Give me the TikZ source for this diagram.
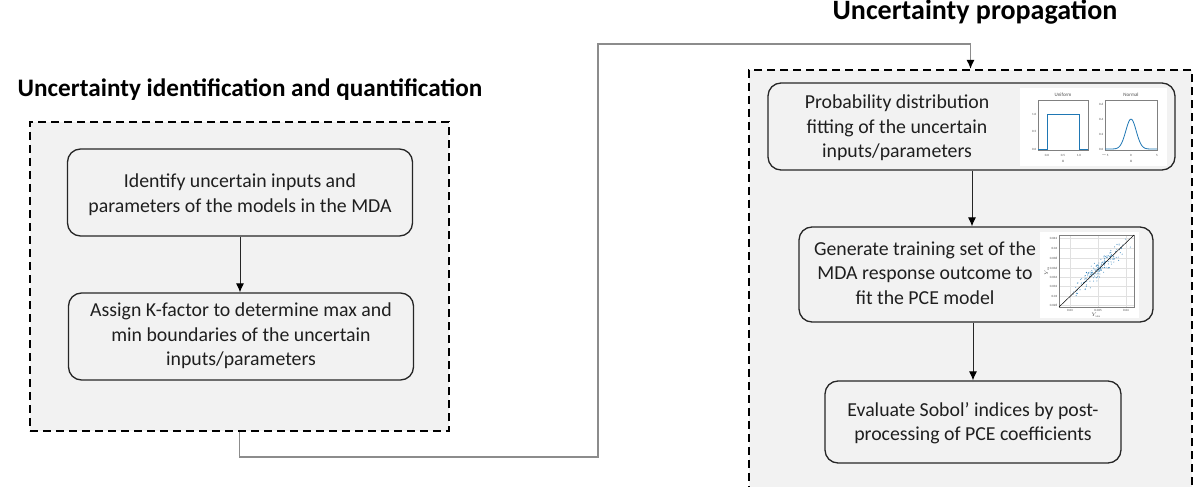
\documentclass[tikz,border=0pt]{standalone}
\usepackage{fontspec}
\setmainfont{Carlito}
\usepackage{xcolor}
\usepackage{tikz}
\usetikzlibrary{arrows.meta, positioning}
\definecolor{panelgray}{HTML}{F2F2F2}
\definecolor{edgegray}{HTML}{262626}
\definecolor{linkgray}{HTML}{8C8C8C}
\definecolor{plotblue}{RGB}{31,119,180}
\tikzstyle{panel} = [draw=black, line width=2pt, dash pattern=on 8pt off 5pt, fill=panelgray, inner sep=0pt]
\tikzstyle{stepbox} = [draw=edgegray, line width=1.3pt, rounded corners=13pt, fill=panelgray, inner sep=0pt]
\tikzstyle{boxtext} = [align=center, font=\fontsize{19.8}{24.5}\selectfont, text=black!88]
\tikzstyle{heading} = [font=\fontsize{25.2}{28}\selectfont\bfseries, text=black]
\tikzstyle{arrow} = [line width=0.9pt, draw=edgegray, -{Latex[length=9pt,width=8pt,color=black]}]
\tikzstyle{link} = [line width=1.5pt, draw=linkgray, -{Latex[length=9pt,width=8pt,color=black]}]
\tikzstyle{frame} = [draw=gray, line width=0.5pt]
\tikzstyle{ticklab} = [font=\fontsize{3.2}{3.5}\selectfont, text=black!70, inner sep=0.6pt]

\begin{document}
\begin{tikzpicture}[x=1pt, y=-1pt]
        \useasboundingbox (0,0) rectangle (1195,487);
        \clip (0,0) rectangle (1195,487);

        % Panels
        \node[panel, minimum width=419pt, minimum height=309pt] (leftc) at (239.5,276.5) {};
        \node[panel, minimum width=443pt, minimum height=440pt] (rightc) at (970.5,290) {};

        % Headings
        \node[heading] (lefthead) at (250,90) {Uncertainty identification and quantification};
        \node[heading, font=\fontsize{28}{30}\selectfont\bfseries] (righthead) at (975,12) {Uncertainty propagation};

        % Steps of the left panel
        \node[stepbox, minimum width=345pt, minimum height=87pt] (ident) at (240,192.5) {};
        \node[boxtext] (identtxt) at (240,194.5) {Identify uncertain inputs and\\parameters of the models in the MDA};
        \node[stepbox, minimum width=345pt, minimum height=87pt] (kfac) at (241,336.5) {};
        \node[boxtext] (kfactxt) at (241,336) {Assign K-factor to determine max and\\min boundaries of the uncertain\\inputs/parameters};

        % Steps of the right panel
        \node[stepbox, minimum width=407pt, minimum height=87pt] (fit) at (971.5,126.5) {};
        \node[boxtext] (fittxt) at (897,128) {Probability distribution\\fitting of the uncertain\\inputs/parameters};
        \node[stepbox, minimum width=354pt, minimum height=95pt] (train) at (976,274.5) {};
        \node[boxtext] (traintxt) at (925,273) {Generate training set of the\\MDA response outcome to\\fit the PCE model};
        \node[stepbox, minimum width=296pt, minimum height=82pt] (sobol) at (973,422) {};
        \node[boxtext] (soboltxt) at (973,423) {Evaluate Sobol’ indices by post-\\processing of PCE coefficients};

        % Arrows
        \draw[arrow] (ident.south) -- (ident.south |- kfac.north);
        \draw[arrow] (fit.south -| 972,0) -- (train.north -| 972,0);
        \draw[arrow] (train.south -| 973,0) -- (sobol.north -| 973,0);

        % Link between the panels
        \coordinate (turnlow) at (598,457);
        \coordinate (turnhigh) at (598,44);
        \draw[link] (leftc.south) |- (turnlow) |- (turnhigh) -| (rightc.north);

        % Distribution plots
        \fill[white] (1020,88) rectangle (1167,166);
        \node[ticklab, font=\fontsize{5}{5}\selectfont] (unihead) at (1063,95) {Uniform};
        \draw[frame] (1038,100) rectangle (1088,150);
        \draw[plotblue, line width=0.8pt] (1038,149) -- (1047,149) -- (1047,114) -- (1079,114) -- (1079,149) -- (1088,149);
        \foreach \yy/\lab in {149/0.0, 131.5/0.5, 114/1.0}
            \node[ticklab, anchor=east] at (1037,\yy) {\lab};
        \foreach \xx/\lab in {1047/0.0, 1063/0.5, 1079/1.0}
            \node[ticklab] at (\xx,155) {\lab};
        \node[ticklab, font=\fontsize{4.5}{5}\selectfont\itshape] (unix) at (1063,161) {x};

        \node[ticklab, font=\fontsize{5}{5}\selectfont] (normhead) at (1131,95) {Normal};
        \draw[frame] (1105,100) rectangle (1157,150);
        \draw[plotblue, line width=0.8pt, domain=-5:5, samples=60, smooth]
            plot ({1131+5.2*\x},{149-75*0.3989*exp(-\x*\x/2)});
        \foreach \yy/\lab in {149/0.0, 134/0.2, 119/0.4, 104/0.6}
            \node[ticklab, anchor=east] at (1104,\yy) {\lab};
        \foreach \xx/\lab in {1105/$-$5, 1131/0, 1157/5}
            \node[ticklab] at (\xx,155) {\lab};
        \node[ticklab, font=\fontsize{4.5}{5}\selectfont\itshape] (normx) at (1131,161) {x};

        % Scatter plot
        \fill[white] (1040,232) rectangle (1139,318);
        \foreach \xx in {1070,1098,1126}
            \draw[black!12, line width=0.3pt] (\xx,235) -- (\xx,307);
        \foreach \yy/\lab in {238/0.042, 248/0.04, 258/0.038, 268/0.036, 277/0.034, 286/0.032, 296/0.03, 305/0.028} {
            \draw[black!12, line width=0.3pt] (1059,\yy) -- (1134,\yy);
            \node[ticklab, anchor=east] at (1058,\yy) {\lab};
        }
        \foreach \xx/\lab in {1070/0.03, 1098/0.035, 1126/0.04}
            \node[ticklab] at (\xx,310.5) {\lab};
        \node[ticklab, rotate=90] (ylab) at (1047,271) {$Y_{\mathrm{PCE}}$};
        \node[ticklab] (xlab) at (1096,315.5) {$Y_{\mathrm{MDA}}$};
        \begin{scope}
            \clip (1059,235) rectangle (1134,307);
            \pgfmathsetseed{42}
            \foreach \k in {1,...,170} {
                \pgfmathsetmacro\ps{0.55+0.2*(rand+rand)}
                \pgfmathsetmacro\qs{0.03*(rand+rand+rand)}
                \fill[plotblue, opacity=0.75] ({1059+75*(\ps+\qs)},{307-72*(\ps-\qs)}) circle (0.55pt);
            }
        \end{scope}
        \draw[frame] (1059,235) rectangle (1134,307);
        \draw[black, line width=0.5pt] (1059,307) -- (1134,235);
    \end{tikzpicture}
\end{document}
